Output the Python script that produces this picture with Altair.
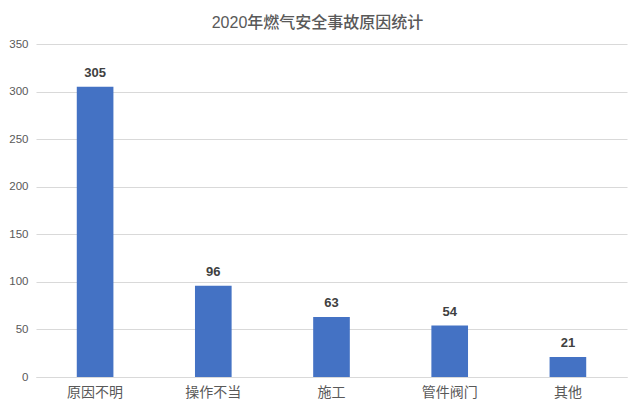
import altair as alt
import pandas as pd

categories = ["原因不明", "操作不当", "施工", "管件阀门", "其他"]
counts = [305, 96, 63, 54, 21]

df = pd.DataFrame({"cause": categories, "count": counts})

FONT = "Liberation Sans, Arial, Noto Sans CJK SC, sans-serif"

base = alt.Chart(df).encode(
    x=alt.X("cause:N", sort=categories, title=None,
            scale=alt.Scale(paddingInner=0.69, paddingOuter=0.345),
            axis=alt.Axis(labelAngle=0, labelFontSize=14, labelColor="#595959",
                          labelFont=FONT, labelPadding=8, ticks=False,
                          domainColor="#d9d9d9", domainWidth=1, grid=False)),
    y=alt.Y("count:Q", title=None,
            scale=alt.Scale(domain=[0, 350]),
            axis=alt.Axis(values=[0, 50, 100, 150, 200, 250, 300, 350],
                          labelFontSize=11.5, labelColor="#595959", labelFont=FONT,
                          labelPadding=8, ticks=False, domain=False,
                          gridColor="#d9d9d9", gridWidth=1)),
)

bars = base.mark_bar(color="#4472C4")
labels = base.mark_text(dy=-10, baseline="alphabetic", fontSize=13,
                        fontWeight="bold", color="#404040", font=FONT).encode(
    text=alt.Text("count:Q"))

chart = (bars + labels).properties(
    width=591, height=333,
    padding={"left": 28, "top": 36, "right": 5, "bottom": 26},
    autosize=alt.AutoSizeParams(type="none"),
    title=alt.TitleParams("2020年燃气安全事故原因统计", fontSize=16, fontWeight=500,
                          color="#595959", font=FONT, anchor="middle", offset=7, dx=-14),
).configure_view(stroke=None)

chart.save("out.html", embed_options={"renderer": "svg", "actions": False})
